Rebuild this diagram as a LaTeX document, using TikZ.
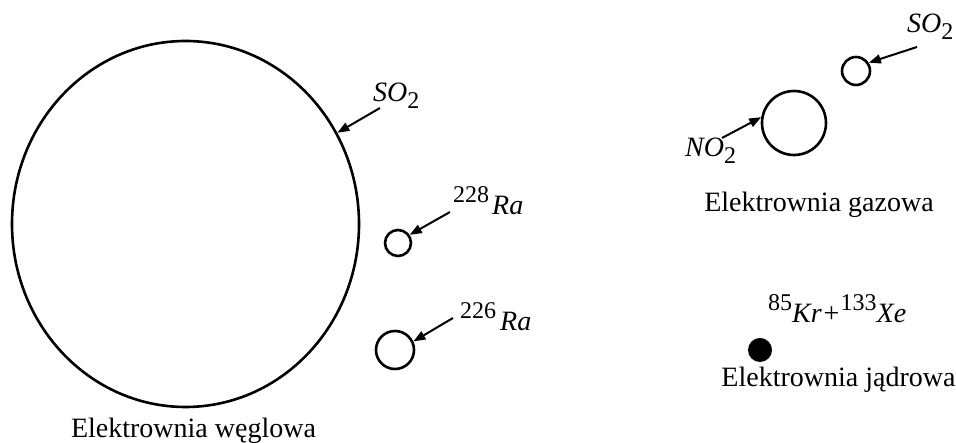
\documentclass[tikz,border=0pt]{standalone}
\usepackage{fontspec}
\setmainfont{Liberation Serif}
\usepackage{tikz}
\usetikzlibrary{shapes.geometric, arrows.meta, positioning}
\newcommand{\isotope}[2]{\raisebox{12pt}{\fontsize{24}{24}\selectfont #1}\textit{#2}}
\newcommand{\molec}[2]{\textit{#1}\raisebox{-7pt}{\fontsize{24}{24}\selectfont #2}}
\tikzset{
  emitter/.style={circle, draw, line width=2.6pt, inner sep=0pt},
  emitarrow/.style={-{Triangle[length=12pt, width=9pt]}, line width=2pt},
  chemlabel/.style={anchor=base west, inner sep=0pt, font=\fontsize{28}{32}\selectfont},
  plantlabel/.style={anchor=base, inner sep=0pt, font=\fontsize{28}{32}\selectfont},
}
\begin{document}
\begin{tikzpicture}[x=1pt, y=1pt]
  \useasboundingbox (0,0) rectangle (956,443);

  % Coal plant
  \node[ellipse, draw, line width=2.6pt, inner sep=0pt, minimum width=347pt, minimum height=366pt] (coal) at (185.5,219) {};
  \node[emitter, minimum size=26pt] (ra228) at (398,200) {};
  \node[emitter, minimum size=38pt] (ra226) at (395,93) {};
  \node[chemlabel] (coalso2) at (373,341) {\molec{SO}{2}};
  \node[chemlabel] (lra228) at (453,228) {\isotope{228}{\hspace{3pt}Ra}};
  \node[chemlabel] (lra226) at (460,112) {\isotope{226}{\hspace{4pt}Ra}};
  \node[plantlabel] (coaltitle) at (193.5,5) {Elektrownia węglowa};

  \coordinate (coalso2tail) at (380,335);
  \coordinate (ra228tail) at (450,231);
  \coordinate (ra226tail) at (453,125);
  \draw[emitarrow] (coalso2tail) -- (coal.31);
  \draw[emitarrow] (ra228tail) -- (ra228.35);
  \draw[emitarrow] (ra226tail) -- (ra226.25);

  % Gas plant
  \node[emitter, minimum size=28pt] (gasso2) at (856,372) {};
  \node[emitter, minimum size=64pt] (gasno2) at (794,320) {};
  \node[chemlabel] (lgasso2) at (907,410) {\molec{SO}{2}};
  \node[chemlabel] (lgasno2) at (685,286) {\molec{NO}{2}};
  \node[plantlabel] (gastitle) at (819,231) {Elektrownia gazowa};

  \coordinate (gasso2tail) at (917,396);
  \coordinate (gasno2tail) at (722,305);
  \draw[emitarrow] (gasso2tail) -- (gasso2.33);
  \draw[emitarrow] (gasno2tail) -- (gasno2.170);

  % Nuclear plant
  \node[circle, fill, inner sep=0pt, minimum size=24pt] (nuclear) at (760,93) {};
  \node[chemlabel] (lkrxe) at (768,120) {\isotope{85}{Kr+}\isotope{133}{Xe}};
  \node[plantlabel] (nucleartitle) at (838.5,56) {Elektrownia jądrowa};
\end{tikzpicture}
\end{document}
